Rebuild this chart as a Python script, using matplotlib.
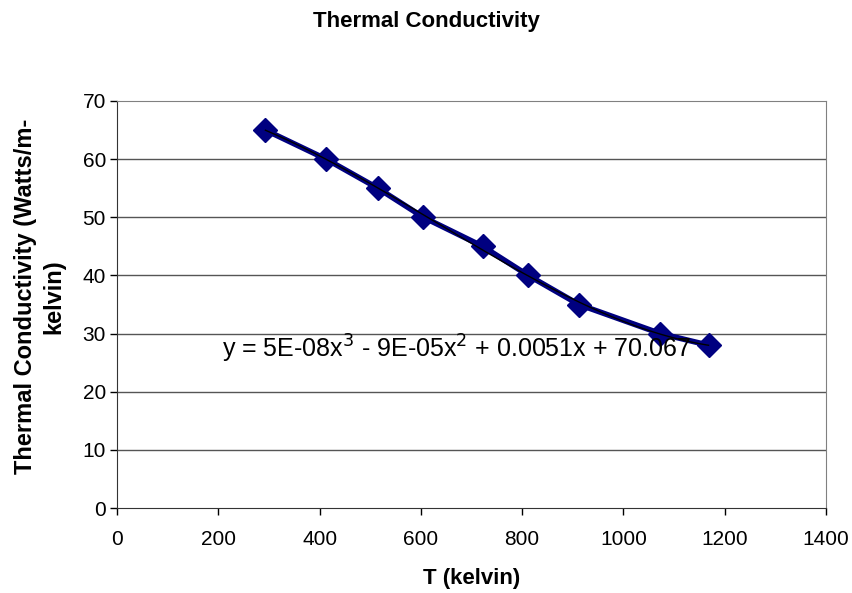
import matplotlib.pyplot as plt
import numpy as np

plt.rcParams['font.family'] = ['Liberation Sans', 'DejaVu Sans']

# temperature (K) and conductivity (W/m-K)
temps = [293, 413, 515, 605, 722, 812, 912, 1073, 1168]
conduct = [65, 60, 55, 50, 45, 40, 35, 30, 28]
xticks = [0, 200, 400, 600, 800, 1000, 1200, 1400]
yticks = [0, 10, 20, 30, 40, 50, 60, 70]
eqn = 'y = 5E-08x$^3$ - 9E-05x$^2$ + 0.0051x + 70.067'

fig = plt.figure(figsize=(8.53, 5.93), dpi=100)
ax = fig.add_axes([0.1372, 0.1433, 0.8312, 0.6864])

for y in yticks[1:-1]:
    ax.axhline(y, color='#555555', lw=1.0, zorder=0)

ax.plot(temps, conduct, color='#000080', lw=4, marker='D', ms=12,
        solid_capstyle='round', solid_joinstyle='round', zorder=3)

# 3rd order polynomial trendline
coef = np.polyfit(temps, conduct, 3)
xs = np.linspace(temps[0], temps[-1], 200)
ax.plot(xs, np.polyval(coef, xs), color='black', lw=1.0, zorder=4)

ax.text(207, 27.4, eqn, fontsize=18, ha='left', va='center', zorder=5)

ax.set_xlim(0, 1400)
ax.set_ylim(0, 70)
ax.set_xticks(xticks)
ax.set_yticks(yticks)
ax.tick_params(labelsize=15, direction='out', length=5, width=1, pad=3)
ax.tick_params(axis='x', pad=11)

for s in ['top', 'right']:
    ax.spines[s].set_color('#808080')
for s in ['left', 'bottom']:
    ax.spines[s].set_color('#333333')

ax.set_xlabel('T (kelvin)', fontsize=16, fontweight='bold')
ax.xaxis.set_label_coords(0.5, -0.172)
ax.xaxis.label.set_va('center')
ax.set_ylabel('Thermal Conductivity (Watts/m-\nkelvin)', fontsize=17,
              fontweight='bold', linespacing=1.3)
ax.yaxis.set_label_coords(-0.109, 0.52)
ax.yaxis.label.set_va('center')
fig.text(0.5, 0.963, 'Thermal Conductivity', ha='center', va='center',
         fontsize=16, fontweight='bold')

fig.savefig('out.png', dpi=100)
